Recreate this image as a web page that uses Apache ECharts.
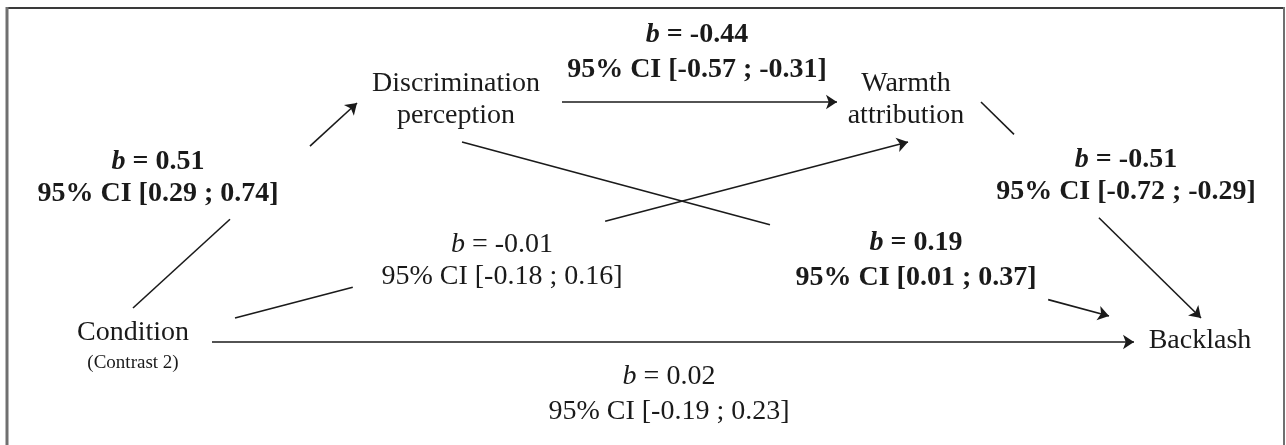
<!DOCTYPE html>
<html>
<head>
<meta charset="utf-8">
<script src="https://cdn.jsdelivr.net/npm/echarts@6/dist/echarts.min.js"></script>
<style>
html,body{margin:0;padding:0;background:#fff;}
#chart{width:1286px;height:445px;}
</style>
</head>
<body>
<div id="chart"></div>
<script>
// ---- data ----
const nodeNames = ['Condition', 'Discrimination\nperception', 'Warmth\nattribution', 'Backlash'];
const nodeNotes = ['(Contrast 2)', '', '', ''];
const pathFrom = [0, 1, 2, 0, 1, 0];
const pathTo   = [1, 2, 3, 2, 3, 3];
const pathB    = [0.51, -0.44, -0.51, -0.01, 0.19, 0.02];
const ciLow    = [0.29, -0.57, -0.72, -0.18, 0.01, -0.19];
const ciHigh   = [0.74, -0.31, -0.29, 0.16, 0.37, 0.23];

// ---- layout (positions only) ----
const nodePos = [[133, 333], [456, 99.5], [906, 99.5], [1200, 341]];
const notePos = [[133, 363], null, null, null];
const pathStart = [[133, 308], [562, 102], [981, 102], [235, 318], [462, 142], [212, 342]];
const pathEnd   = [[357, 103], [837, 102], [1201, 318], [908, 142], [1109, 316], [1134, 342]];
const pathGap   = [[0.433, 0.79], null, [0.15, 0.536], [0.175, 0.55], [0.476, 0.906], null];
const labelPos  = [[158, 162, 194], [697, 35, 70], [1126, 160, 192], [502, 245, 277], [916, 243, 278], [669, 377, 412]];

const FONT = "'Liberation Serif', 'Times New Roman', serif";
const FS = 28;
const INK = '#1a1a1a';

function fmt(v) { return v.toFixed(2); }

// build segments
const plainSegs = [], arrowSegs = [];
pathStart.forEach((p0, i) => {
  const p1 = pathEnd[i];
  const g = pathGap[i];
  const at = t => [p0[0] + (p1[0] - p0[0]) * t, p0[1] + (p1[1] - p0[1]) * t];
  if (g) {
    plainSegs.push({ coords: [p0, at(g[0])] });
    arrowSegs.push({ coords: [at(g[1]), p1] });
  } else {
    arrowSegs.push({ coords: [p0, p1] });
  }
});

// text items
const textItems = [];
nodeNames.forEach((n, i) => {
  textItems.push({ value: [nodePos[i][0], nodePos[i][1]], text: n, kind: 'node' });
  if (nodeNotes[i]) textItems.push({ value: [notePos[i][0], notePos[i][1]], text: nodeNotes[i], kind: 'note' });
});
pathB.forEach((b, i) => {
  const sig = (ciLow[i] > 0 && ciHigh[i] > 0) || (ciLow[i] < 0 && ciHigh[i] < 0);
  const lp = labelPos[i];
  textItems.push({ value: [lp[0], lp[1]], text: '{bi|b}{t| = ' + fmt(b) + '}', kind: sig ? 'bold' : 'norm' });
  textItems.push({ value: [lp[0], lp[2]], text: '{t|95% CI [' + fmt(ciLow[i]) + ' ; ' + fmt(ciHigh[i]) + ']}', kind: sig ? 'bold' : 'norm' });
});

const chart = echarts.init(document.getElementById('chart'), null, { renderer: 'canvas' });
chart.setOption({
  backgroundColor: '#fff',
  animation: false,
  grid: { left: 0, right: 0, top: 0, bottom: 0 },
  xAxis: { type: 'value', min: 0, max: 1286, show: false },
  yAxis: { type: 'value', min: 0, max: 445, inverse: true, show: false },
  graphic: [
    { type: 'line', shape: { x1: 7, y1: 8, x2: 1284, y2: 8 }, style: { stroke: '#3a3a3a', lineWidth: 2 } },
    { type: 'line', shape: { x1: 7, y1: 7, x2: 7, y2: 445 }, style: { stroke: '#707070', lineWidth: 3 } },
    { type: 'line', shape: { x1: 1284, y1: 7, x2: 1284, y2: 445 }, style: { stroke: '#707070', lineWidth: 2 } }
  ],
  series: [
    {
      type: 'lines', coordinateSystem: 'cartesian2d', silent: true,
      symbol: ['none', 'none'],
      lineStyle: { color: INK, width: 1.6, opacity: 1 },
      data: plainSegs
    },
    {
      type: 'lines', coordinateSystem: 'cartesian2d', silent: true,
      symbol: ['none', 'arrow'], symbolSize: [0, 11],
      lineStyle: { color: INK, width: 1.6, opacity: 1 },
      itemStyle: { color: INK },
      data: arrowSegs
    },
    {
      type: 'custom', coordinateSystem: 'cartesian2d', silent: true,
      data: textItems,
      renderItem: function (params, api) {
        const item = textItems[params.dataIndex];
        const pt = api.coord([api.value(0), api.value(1)]);
        let style;
        if (item.kind === 'node') {
          style = { text: item.text, font: FS + 'px ' + FONT, lineHeight: 32, fill: INK };
        } else if (item.kind === 'note') {
          style = { text: item.text, font: '19px ' + FONT, fill: INK };
        } else {
          const w = item.kind === 'bold' ? 'bold ' : '';
          style = {
            text: item.text, fill: INK,
            rich: {
              bi: { fontFamily: FONT, fontSize: FS, fontWeight: item.kind === 'bold' ? 'bold' : 'normal', fontStyle: 'italic', color: INK },
              t: { fontFamily: FONT, fontSize: FS, fontWeight: item.kind === 'bold' ? 'bold' : 'normal', color: INK }
            }
          };
        }
        style.align = 'center';
        style.verticalAlign = 'middle';
        return { type: 'text', x: pt[0], y: pt[1], style: style };
      }
    }
  ]
});
</script>
</body>
</html>
